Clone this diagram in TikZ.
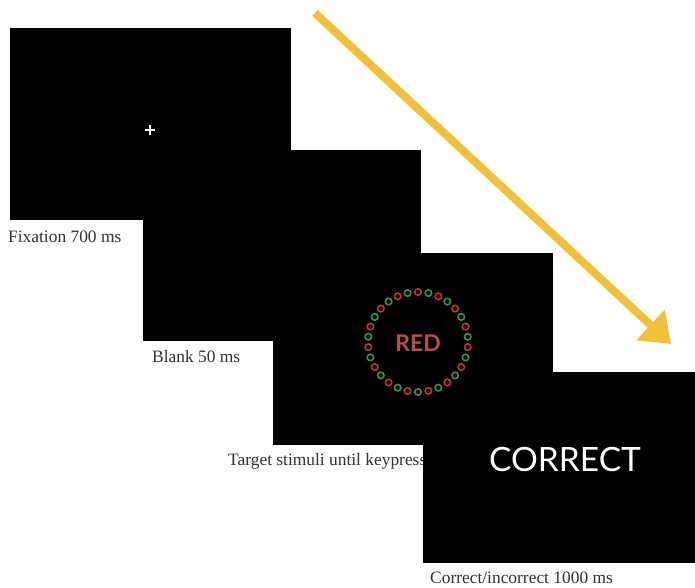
\documentclass[tikz,border=0pt]{standalone}
\usepackage{fontspec}
\setmainfont{Liberation Serif}
\newfontfamily\screenfont{Lato}
\usetikzlibrary{arrows.meta,calc}
\definecolor{arrowyellow}{RGB}{242,193,58}
\definecolor{dotred}{RGB}{196,52,48}
\definecolor{dotgreen}{RGB}{58,145,78}
\definecolor{wordred}{RGB}{186,78,68}
\definecolor{labelgray}{RGB}{50,50,50}
\tikzset{
  screen/.style={fill=black, draw=none, anchor=north west, inner sep=0pt},
  caption/.style={anchor=west, inner sep=0pt, text=labelgray, font=\fontsize{17.4}{19}\selectfont},
  ringdot/.style={circle, draw=#1, line width=1.6pt, minimum size=6.5pt, inner sep=0pt},
  flow/.style={draw=arrowyellow, line width=8pt, -{Triangle[length=28pt,width=40pt]}}
}
\begin{document}
\begin{tikzpicture}[x=1pt,y=-1pt]
\useasboundingbox (0,0) rectangle (695,587);
% screens
\node[screen, minimum width=281pt, minimum height=192pt] (s1) at (10,28) {};
\node[screen, minimum width=278pt, minimum height=191pt] (s2) at (143,150) {};
\node[screen, minimum width=280pt, minimum height=192pt] (s3) at (273,253) {};
\node[caption] (l3) at (228,461) {Target stimuli until keypress};
\node[screen, minimum width=272pt, minimum height=191pt] (s4) at (423,372) {};
% fixation cross
\node[inner sep=0pt, minimum size=0pt] (fx) at (150,130) {};
\draw[white, line width=2pt] ([xshift=-5pt]fx.center) -- ([xshift=5pt]fx.center);
\draw[white, line width=2pt] ([yshift=-5pt]fx.center) -- ([yshift=5pt]fx.center);
% target ring
\node[text=wordred, font=\screenfont\bfseries\fontsize{23}{25}\selectfont] (red) at (418,343) {RED};
\coordinate (rc) at (418,342);
\foreach \i in {0,...,29} {
  \pgfmathsetmacro{\ang}{90+12*\i}
  \pgfmathtruncatemacro{\dotpar}{mod(\i,2)}
  \ifnum\dotpar=0
    \node[ringdot=dotgreen] (d\i) at ($(rc)+(\ang:50)$) {};
  \else
    \node[ringdot=dotred] (d\i) at ($(rc)+(\ang:50)$) {};
  \fi
}
% feedback
\node[text=white, font=\screenfont\fontsize{33.5}{35}\selectfont] (cor) at (565,459) {CORRECT};
% captions
\node[caption] (l1) at (8,237) {Fixation 700 ms};
\node[caption] (l2) at (152,357) {Blank 50 ms};
\node[caption] (l4) at (430,578) {Correct/incorrect 1000 ms};
% time arrow
\coordinate (a0) at (315,13);
\coordinate (a1) at (671,344);
\draw[flow] (a0) -- (a1);
\end{tikzpicture}
\end{document}
